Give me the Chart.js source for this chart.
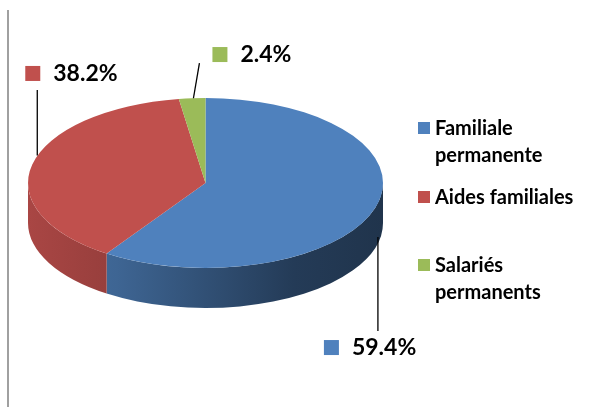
<!DOCTYPE html>
<html>
<head>
<meta charset="utf-8">
<script src="https://cdn.jsdelivr.net/npm/chart.js@4.4.0/dist/chart.umd.min.js"></script>
<style>
  body { margin: 0; background: #fff; }
  #wrap { position: relative; width: 596px; height: 407px; font-family: Lato, 'Noto Sans', sans-serif; }
  #edge { position: absolute; left: 7px; top: 10px; width: 2px; height: 397px; background: #a0a0a0; }
  #legend { position: absolute; left: 418px; top: 0; width: 175px; }
  .item { position: absolute; left: 0; display: flex; align-items: flex-start; }
  .swatch { width: 12px; height: 12px; margin-top: 8px; margin-right: 5px; flex: none; }
  .name { font-weight: bold; font-size: 20px; line-height: 27px; color: #000; width: 150px; }
</style>
</head>
<body>
<div id="wrap">
  <canvas id="pie"></canvas>
  <div id="edge"></div>
  <div id="legend"></div>
</div>
<script>
const categories = ['Familiale permanente', 'Aides familiales', 'Salariés permanents'];
const shares = [59.4, 38.2, 2.4];
const topColors = ['#4F81BD', '#C0504D', '#9BBB59'];

const TILT = 85 / 177.5;   // vertical squash of the pie top
const DEPTH = 40;          // height of the pie's side wall

// where each value label sits, relative to the middle of its slice's rim
const leaderSpots = [
  { start: [2.6, 29.3], end: [2.6, 123.3], box: [-51.4, 132.3] },
  { start: [5, -9], end: [5, -74.5], box: [-7, -98.5] },
  { start: [1.3, 0], end: [7.3, -35.2], box: [20.3, -51.2] }
];
const legendTops = [114, 183, 251];

function shade(hex, f) {
  const n = parseInt(hex.slice(1), 16);
  const r = Math.round(((n >> 16) & 255) * f);
  const g = Math.round(((n >> 8) & 255) * f);
  const b = Math.round((n & 255) * f);
  return `rgb(${r},${g},${b})`;
}

const pie3d = {
  id: 'pie3d',
  beforeDatasetsDraw(chart) {
    const ctx = chart.ctx;
    const arcs = chart.getDatasetMeta(0).data;
    const cx = arcs[0].x, cy = arcs[0].y, r = arcs[0].outerRadius;
    // side wall: only the front half (0..PI) can be seen
    ctx.save();
    ctx.translate(cx, cy);
    ctx.scale(1, TILT);
    arcs.forEach((arc, i) => {
      const color = topColors[i];
      for (const shift of [-2 * Math.PI, 0, 2 * Math.PI]) {
        const a1 = Math.max(arc.startAngle + shift, 0);
        const a2 = Math.min(arc.endAngle + shift, Math.PI);
        if (a2 <= a1) continue;
        const grad = ctx.createLinearGradient(-r, 0, r, 0);
        grad.addColorStop(0, shade(color, 0.88));
        grad.addColorStop(0.25, shade(color, 0.78));
        grad.addColorStop(0.75, shade(color, 0.46));
        grad.addColorStop(1, shade(color, 0.40));
        ctx.beginPath();
        ctx.arc(0, 0, r, a1, a2);
        ctx.arc(0, DEPTH / TILT, r, a2, a1, true);
        ctx.closePath();
        ctx.fillStyle = grad;
        ctx.fill();
      }
    });
    ctx.restore();
    // squash the top face drawn by the pie controller
    ctx.save();
    ctx.translate(cx, cy);
    ctx.scale(1, TILT);
    ctx.translate(-cx, -cy);
  },
  afterDatasetsDraw(chart) {
    const ctx = chart.ctx;
    ctx.restore();
    const arcs = chart.getDatasetMeta(0).data;
    ctx.save();
    ctx.font = 'bold 23px Lato';
    ctx.textBaseline = 'middle';
    arcs.forEach((arc, i) => {
      const mid = (arc.startAngle + arc.endAngle) / 2;
      const ax = arc.x + Math.cos(mid) * arc.outerRadius;
      const ay = arc.y + Math.sin(mid) * arc.outerRadius * TILT;
      const spot = leaderSpots[i];
      ctx.beginPath();
      ctx.moveTo(ax + spot.start[0], ay + spot.start[1]);
      ctx.lineTo(ax + spot.end[0], ay + spot.end[1]);
      ctx.strokeStyle = '#000';
      ctx.lineWidth = 1.3;
      ctx.stroke();
      const bx = ax + spot.box[0], by = ay + spot.box[1];
      ctx.fillStyle = topColors[i];
      ctx.fillRect(bx, by, 15, 15);
      ctx.fillStyle = '#000';
      ctx.fillText(shares[i].toFixed(1) + '%', bx + 28, by + 8);
    });
    ctx.restore();
  }
};

new Chart(document.getElementById('pie'), {
  type: 'pie',
  data: {
    labels: categories,
    datasets: [{
      data: shares,
      backgroundColor: topColors,
      borderWidth: 0,
      hoverOffset: 0
    }]
  },
  options: {
    responsive: true,
    maintainAspectRatio: false,
    animation: false,
    layout: { padding: { left: 28, top: 5.5, right: 213, bottom: 46.5 } },
    plugins: { legend: { display: false }, tooltip: { enabled: false } }
  },
  plugins: [pie3d]
});

const legend = document.getElementById('legend');
categories.forEach((name, i) => {
  const item = document.createElement('div');
  item.className = 'item';
  item.style.top = legendTops[i] + 'px';
  item.innerHTML = `<span class="swatch" style="background:${topColors[i]}"></span><span class="name">${name}</span>`;
  legend.appendChild(item);
});
</script>
</body>
</html>
